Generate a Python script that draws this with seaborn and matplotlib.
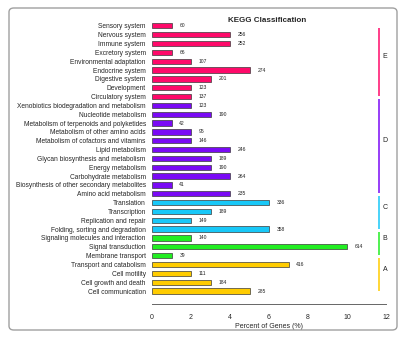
import matplotlib
matplotlib.use("Agg")
import matplotlib.pyplot as plt
from matplotlib.patches import FancyBboxPatch
import seaborn as sns
import pandas as pd

# KEGG level-2 pathways, top to bottom
categories = [
    "Sensory system", "Nervous system", "Immune system", "Excretory system",
    "Environmental adaptation", "Endocrine system", "Digestive system",
    "Development", "Circulatory system",
    "Xenobiotics biodegradation and metabolism", "Nucleotide metabolism",
    "Metabolism of terpenoids and polyketides", "Metabolism of other amino acids",
    "Metabolism of cofactors and vitamins", "Lipid metabolism",
    "Glycan biosynthesis and metabolism", "Energy metabolism",
    "Carbohydrate metabolism", "Biosynthesis of other secondary metabolites",
    "Amino acid metabolism",
    "Translation", "Transcription", "Replication and repair",
    "Folding, sorting and degradation",
    "Signaling molecules and interaction", "Signal transduction",
    "Membrane transport",
    "Transport and catabolism", "Cell motility", "Cell growth and death",
    "Cell communication",
]
# level-1 class letter of each pathway
classes = ["E"] * 9 + ["D"] * 11 + ["C"] * 4 + ["B"] * 3 + ["A"] * 4
# percent of genes (rounded) and gene counts
percent = [1, 4, 4, 1, 2, 5, 3, 2, 2,
           2, 3, 1, 2, 2, 4, 3, 3, 4, 1, 4,
           6, 3, 2, 6,
           2, 10, 1,
           7, 2, 3, 5]
counts = [60, 256, 252, 66, 107, 274, 201, 123, 137,
          123, 190, 42, 95, 146, 246, 189, 190, 264, 41, 235,
          336, 189, 149, 358,
          140, 614, 39,
          416, 111, 184, 285]
class_order = ["E", "D", "C", "B", "A"]
class_colors = ["#FF0A6A", "#7A0AF5", "#18C8F8", "#22EE22", "#FFCC00"]
x_ticks = [0, 2, 4, 6, 8, 10, 12]

df = pd.DataFrame({"category": categories, "cls": classes,
                   "percent": percent, "count": counts})

sns.set_style("white")
plt.rcParams["font.family"] = ["Liberation Sans", "DejaVu Sans"]

W, H = 403, 339
fig = plt.figure(figsize=(W / 100, H / 100), dpi=100)

# rounded outer frame
frame = FancyBboxPatch((9 / W, 1 - 330 / H), (397 - 9) / W, (330 - 8) / H,
                       boxstyle="round,pad=0,rounding_size=0.012",
                       transform=fig.transFigure, fill=False,
                       edgecolor="#a0a0a0", linewidth=1.0)
fig.patches.append(frame)

ax_left, ax_right = 152 / W, 386 / W
ax_top, ax_bottom = 1 - 21.4 / H, 1 - 304 / H
ax = fig.add_axes([ax_left, ax_bottom, ax_right - ax_left, ax_top - ax_bottom])

palette = dict(zip(class_order, class_colors))
sns.barplot(data=df, x="percent", y="category", hue="cls", palette=palette,
            hue_order=class_order, dodge=False, width=0.6, orient="h",
            saturation=1, edgecolor="#3a3a3a", linewidth=0.5, legend=False,
            ax=ax)

for i, (p, c) in enumerate(zip(percent, counts)):
    ax.text(p + 0.4, i, str(c), fontsize=3.6, va="center", ha="left",
            color="#222222")

ax.set_xlim(0, 12)
ax.set_ylim(31.47, -0.5)
ax.set_xticks(x_ticks)
ax.set_xticklabels([str(t) for t in x_ticks], fontsize=5)
ax.set_xlabel("Percent of Genes (%)", fontsize=5, labelpad=1.5)
ax.set_ylabel("")
ax.tick_params(axis="y", length=0, pad=4.5, labelsize=4.8)
ax.tick_params(axis="x", length=2.5, width=0.6, color="#555555", pad=4.5)
for side in ("top", "right", "left"):
    ax.spines[side].set_visible(False)
ax.spines["bottom"].set_color("#666666")
ax.spines["bottom"].set_linewidth(0.7)

# class brackets on the right
for cls, col in zip(class_order, class_colors):
    idx = [i for i, k in enumerate(classes) if k == cls]
    y0 = max(idx[0] - 0.7, 0.28)
    y1 = idx[-1] - 0.05
    ax.plot([11.64, 11.64], [y0, y1], color=col, linewidth=1.1,
            clip_on=False, solid_capstyle="butt")
    ax.text(11.95, (y0 + y1) / 2 - 0.6, cls, fontsize=5, va="center",
            ha="center", color="#222222")

fig.text(267 / W, 1 - 20.5 / H, "KEGG Classification", fontsize=5.8,
         fontweight="bold", ha="center", va="center")

fig.savefig("out.png", dpi=100)
